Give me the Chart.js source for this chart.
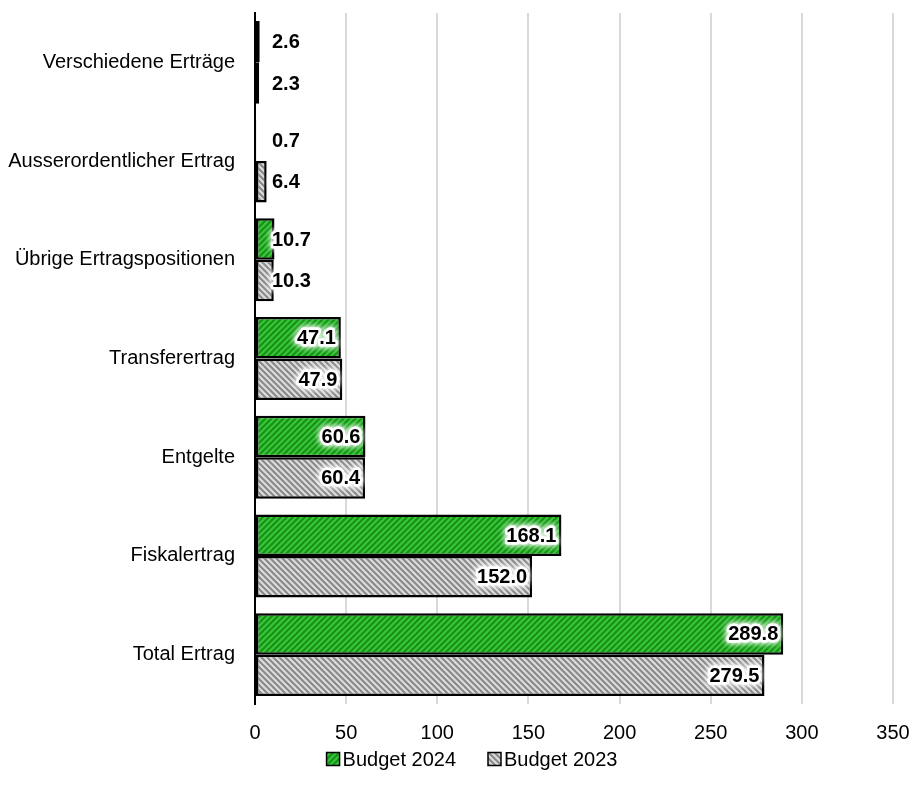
<!DOCTYPE html>
<html>
<head>
<meta charset="utf-8">
<script src="https://cdn.jsdelivr.net/npm/chart.js@4.4.1/dist/chart.umd.min.js"></script>
<style>
  body { margin: 0; background: #fff; }
  #wrap { width: 912px; height: 801px; }
</style>
</head>
<body>
<div id="wrap"><canvas id="ertragChart" width="912" height="801"></canvas></div>
<script>
// data
const categories = ['Verschiedene Erträge', 'Ausserordentlicher Ertrag', 'Übrige Ertragspositionen',
  'Transferertrag', 'Entgelte', 'Fiskalertrag', 'Total Ertrag'];
const budget2024 = [2.6, 0.7, 10.7, 47.1, 60.6, 168.1, 289.8];
const budget2023 = [2.3, 6.4, 10.3, 47.9, 60.4, 152.0, 279.5];
const xTicks = [0, 50, 100, 150, 200, 250, 300, 350];

const FONT = "'Liberation Sans', Arial, sans-serif";

// diagonal hatch fill, dir 1 = '/', dir -1 = '\'
function hatch(bg, fg, dir) {
  const s = 6;
  const c = document.createElement('canvas');
  c.width = s; c.height = s;
  const g = c.getContext('2d');
  g.fillStyle = bg;
  g.fillRect(0, 0, s, s);
  g.strokeStyle = fg;
  g.lineWidth = 2.2;
  if (dir < 0) { g.translate(s, 0); g.scale(-1, 1); }
  g.beginPath();
  g.moveTo(0, s); g.lineTo(s, 0);
  g.moveTo(-1, 1); g.lineTo(1, -1);
  g.moveTo(s - 1, s + 1); g.lineTo(s + 1, s - 1);
  g.stroke();
  return g.createPattern(c, 'repeat');
}

const ctx = document.getElementById('ertragChart').getContext('2d');
const greenFill = hatch('#35c935', '#1b8f1b', 1);
const grayFill = hatch('#dedede', '#8a8a8a', -1);

// value labels with a white glow
const valueLabels = {
  id: 'valueLabels',
  afterDatasetsDraw(chart) {
    const c = chart.ctx;
    c.save();
    c.font = 'bold 20px ' + FONT;
    c.textBaseline = 'middle';
    c.textAlign = 'left';
    chart.data.datasets.forEach((ds, i) => {
      chart.getDatasetMeta(i).data.forEach((bar, j) => {
        const txt = ds.data[j].toFixed(1);
        const w = c.measureText(txt).width;
        const x = Math.max(bar.base + 16, bar.x - 5 - w);
        const y = bar.y + 1;
        c.save();
        c.shadowColor = 'rgba(255,255,255,1)';
        c.shadowBlur = 6;
        c.strokeStyle = 'rgba(255,255,255,0.9)';
        c.lineWidth = 5;
        c.lineJoin = 'round';
        c.strokeText(txt, x, y);
        c.strokeText(txt, x, y);
        c.restore();
        c.fillStyle = '#000';
        c.fillText(txt, x, y);
      });
    });
    c.restore();
  }
};

// legend drawn under the axis
const bottomLegend = {
  id: 'bottomLegend',
  afterDraw(chart) {
    const c = chart.ctx;
    c.save();
    c.font = '20px ' + FONT;
    c.textBaseline = 'middle';
    const box = 13, gapText = 3, gapItem = 32;
    const items = chart.data.datasets.map(ds => ({ label: ds.label, fill: ds.backgroundColor,
      w: box + gapText + c.measureText(ds.label).width }));
    const total = items.reduce((a, it) => a + it.w, 0) + gapItem * (items.length - 1);
    let x = 472 - total / 2;
    const y = 759;
    items.forEach(it => {
      c.fillStyle = it.fill;
      c.fillRect(x, y - box / 2, box, box);
      c.strokeStyle = '#000';
      c.lineWidth = 1.5;
      c.strokeRect(x, y - box / 2, box, box);
      c.fillStyle = '#000';
      c.fillText(it.label, x + box + gapText, y + 1);
      x += it.w + gapItem;
    });
    c.restore();
  }
};

new Chart(ctx, {
  type: 'bar',
  data: {
    labels: categories,
    datasets: [
      { label: 'Budget 2024', data: budget2024, backgroundColor: greenFill,
        borderColor: '#000', borderWidth: 2.5, borderSkipped: false },
      { label: 'Budget 2023', data: budget2023, backgroundColor: grayFill,
        borderColor: '#000', borderWidth: 2.5, borderSkipped: false }
    ]
  },
  options: {
    indexAxis: 'y',
    responsive: false,
    animation: false,
    layout: { padding: { top: 13, right: 19, bottom: 53, left: 0 } },
    datasets: { bar: { categoryPercentage: 0.84, barPercentage: 1.0 } },
    plugins: {
      legend: { display: false },
      tooltip: { enabled: false }
    },
    scales: {
      x: {
        min: 0,
        max: 350,
        afterBuildTicks: axis => { axis.ticks = xTicks.map(v => ({ value: v })); },
        afterFit: axis => { axis.height = 44; axis.paddingLeft = 0; axis.paddingRight = 0; },
        grid: { color: '#d9d9d9', lineWidth: 2, drawTicks: false },
        border: { display: false },
        ticks: { color: '#000', padding: 17, font: { family: FONT, size: 20 }, maxRotation: 0 }
      },
      y: {
        afterFit: axis => { axis.width = 255; axis.paddingTop = 0; axis.paddingBottom = 0; },
        grid: { display: false, drawTicks: false },
        border: { display: true, color: '#000', width: 2 },
        ticks: { color: '#000', padding: 20, font: { family: FONT, size: 20 } }
      }
    }
  },
  plugins: [valueLabels, bottomLegend]
});
</script>
</body>
</html>
